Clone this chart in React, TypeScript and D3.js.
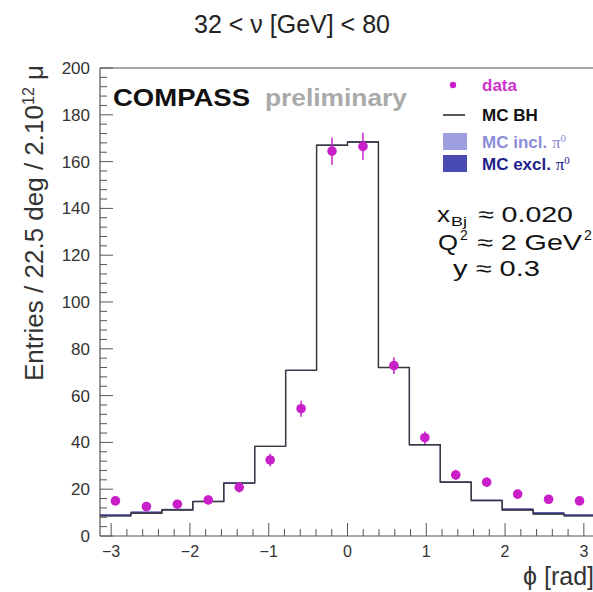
import React from 'react';
import * as d3 from 'd3';

const nBins = 16;
const mcBH = [8.6, 9.7, 11.1, 14.7, 22.6, 38.3, 70.8, 167.0, 168.4, 72.0, 39.0, 23.0, 15.1, 11.1, 9.4, 8.6];
const mcExcl = [0.6, 0.6, 0.3, 0.2, 0.1, 0, 0, 0, 0, 0, 0, 0.1, 0.3, 0.5, 0.6, 0.6];
const mcIncl = [0.2, 0.2, 0.1, 0.1, 0, 0, 0, 0, 0, 0, 0, 0, 0.1, 0.1, 0.2, 0.2];
const dataVals = [15.0, 12.6, 13.6, 15.4, 20.8, 32.5, 54.4, 164.5, 166.5, 72.8, 42.0, 26.1, 23.0, 17.9, 15.7, 15.0];
const dataErr = [1.8, 1.7, 1.8, 1.9, 2.2, 2.7, 3.4, 5.8, 5.8, 3.6, 2.7, 2.2, 2.0, 1.9, 1.8, 1.8];
const xMajorTicks = [-3, -2, -1, 0, 1, 2, 3];
const yMajorTicks = [0, 20, 40, 60, 80, 100, 120, 140, 160, 180, 200];

const ROOT_FONT = '"Liberation Sans", Arial, Helvetica, sans-serif';
const NOTE_FONT = '"Liberation Sans", Arial, sans-serif';

export default function App() {
  const x = d3.scaleLinear().domain([-Math.PI, Math.PI]).range([100, 595]);
  const y = d3.scaleLinear().domain([0, 200]).range([536, 68]);
  const binW = (2 * Math.PI) / nBins;
  const edges = d3.range(nBins + 1).map((i) => -Math.PI + i * binW);
  const centers = d3.range(nBins).map((i) => -Math.PI + (i + 0.5) * binW);

  const pts = (lo: number[], hi: number[]) =>
    edges.map((e, i) => {
      const k = Math.min(i, nBins - 1);
      return { e, lo: lo[k], hi: hi[k] };
    });

  const bhPlusExcl = mcBH.map((v, i) => v + mcExcl[i]);
  const total = bhPlusExcl.map((v, i) => v + mcIncl[i]);

  const area = d3
    .area<{ e: number; lo: number; hi: number }>()
    .x((d) => x(d.e))
    .y0((d) => y(d.lo))
    .y1((d) => y(d.hi))
    .curve(d3.curveStepAfter);
  const line = d3
    .line<{ e: number; lo: number; hi: number }>()
    .x((d) => x(d.e))
    .y((d) => y(d.hi))
    .curve(d3.curveStepAfter);

  const xMinor = d3.range(-3, 3.0001, 0.2).map((v) => Math.round(v * 10) / 10).filter((v) => !xMajorTicks.includes(v));
  const yMinor = d3.range(0, 201, 4).filter((v) => v % 20 !== 0);

  const axisCol = '#555';

  return (
    <svg width={593} height={592} style={{ position: 'absolute', left: 0, top: 0, background: '#fff' }}>
      <rect x={0} y={0} width={593} height={592} fill="#fff" />
      {/* Title */}
      <text x={292} y={33} textAnchor="middle" fontFamily={ROOT_FONT} fontSize={25} fill="#222">
        32 &lt; ν [GeV] &lt; 80
      </text>

      {/* MC stacks */}
      <path d={area(pts(mcBH, bhPlusExcl)) || ''} fill="#4a4ab5" stroke="#3a3aa0" strokeWidth={1} />
      <path d={area(pts(bhPlusExcl, total)) || ''} fill="#9f9fe0" stroke="none" />
      <path d={line(pts(mcBH, mcBH)) || ''} fill="none" stroke="#3a3a3a" strokeWidth={1.4} />

      {/* Frame */}
      <line x1={100} x2={595} y1={68} y2={68} stroke="#888" strokeWidth={1.5} />
      <line x1={100} x2={100} y1={68} y2={536} stroke={axisCol} strokeWidth={1.2} />
      <line x1={100} x2={595} y1={536} y2={536} stroke={axisCol} strokeWidth={1.2} />

      {/* Y ticks */}
      {yMajorTicks.map((t) => (
        <g key={'ym' + t}>
          <line x1={100} x2={113} y1={y(t)} y2={y(t)} stroke={axisCol} strokeWidth={1} />
          <text x={90} y={y(t) + 6} textAnchor="end" fontFamily={ROOT_FONT} fontSize={17} fill="#333">
            {t}
          </text>
        </g>
      ))}
      {yMinor.map((t) => (
        <line key={'yn' + t} x1={100} x2={107} y1={y(t)} y2={y(t)} stroke={axisCol} strokeWidth={1} />
      ))}

      {/* X ticks */}
      {xMajorTicks.map((t) => (
        <g key={'xm' + t}>
          <line x1={x(t)} x2={x(t)} y1={536} y2={523} stroke={axisCol} strokeWidth={1} />
          <text x={x(t)} y={557} textAnchor="middle" fontFamily={ROOT_FONT} fontSize={16} fill="#333">
            {t < 0 ? '\u2212' + Math.abs(t) : t}
          </text>
        </g>
      ))}
      {xMinor.map((t) => (
        <line key={'xn' + t} x1={x(t)} x2={x(t)} y1={536} y2={529} stroke={axisCol} strokeWidth={1} />
      ))}

      {/* Data points */}
      {centers.map((c, i) => (
        <g key={'d' + i}>
          <line x1={x(c)} x2={x(c)} y1={y(dataVals[i] - dataErr[i])} y2={y(dataVals[i] + dataErr[i])} stroke="#cc22cc" strokeWidth={1.5} />
          <circle cx={x(c)} cy={y(dataVals[i])} r={4.8} fill="#c81fc8" />
        </g>
      ))}

      {/* Axis titles */}
      <text transform="translate(43,65) rotate(-90)" textAnchor="end" fontFamily={ROOT_FONT} fontSize={26} fill="#333">
        Entries / 22.5 deg / 2.10<tspan dy={-9} fontSize={16}>12</tspan>
        <tspan dy={9}> μ</tspan>
      </text>
      <text x={594} y={585} textAnchor="end" fontFamily={ROOT_FONT} fontSize={25} fill="#333">
        ϕ [rad]
      </text>

      {/* COMPASS label */}
      <text x={113} y={106} fontFamily={ROOT_FONT} fontWeight="bold" fontSize={23} fill="#111" textLength={137} lengthAdjust="spacingAndGlyphs">
        COMPASS
      </text>
      <text x={265} y={106} fontFamily={ROOT_FONT} fontWeight="bold" fontSize={23} fill="#aaa" textLength={142} lengthAdjust="spacingAndGlyphs">
        preliminary
      </text>

      {/* Legend */}
      <circle cx={453} cy={85} r={3.2} fill="#c81fc8" />
      <text x={482} y={91} fontFamily={ROOT_FONT} fontWeight="bold" fontSize={17} fill="#cc33cc">
        data
      </text>
      <line x1={443} x2={465} y1={115} y2={115} stroke="#222" strokeWidth={1.5} />
      <text x={482} y={121} fontFamily={ROOT_FONT} fontWeight="bold" fontSize={17} fill="#111">
        MC BH
      </text>
      <rect x={443} y={133} width={24} height={17} fill="#9f9fe0" />
      <text x={482} y={148} fontFamily={ROOT_FONT} fontWeight="bold" fontSize={17} fill="#8c8cd9">
        MC incl. <tspan fontFamily='"Liberation Serif", serif' fontWeight="normal">π</tspan>
        <tspan dy={-6} fontSize={11} fontFamily='"Liberation Serif", serif' fontWeight="normal">0</tspan>
      </text>
      <rect x={443} y={155} width={24} height={17} fill="#4a4ab5" />
      <text x={482} y={170} fontFamily={ROOT_FONT} fontWeight="bold" fontSize={17} fill="#1e1e8c">
        MC excl. <tspan fontFamily='"Liberation Serif", serif' fontWeight="normal">π</tspan>
        <tspan dy={-6} fontSize={11} fontFamily='"Liberation Serif", serif' fontWeight="normal">0</tspan>
      </text>

      {/* Kinematics annotation */}
      <text x={437} y={222} fontFamily={NOTE_FONT} fontSize={22} fill="#111" textLength={13} lengthAdjust="spacingAndGlyphs">x</text>
      <text x={451} y={226} fontFamily={NOTE_FONT} fontSize={13} fill="#111" textLength={16} lengthAdjust="spacingAndGlyphs">Bj</text>
      <text x={478} y={222} fontFamily={NOTE_FONT} fontSize={22} fill="#111" textLength={95} lengthAdjust="spacingAndGlyphs">≈ 0.020</text>

      <text x={438} y={250} fontFamily={NOTE_FONT} fontSize={22} fill="#111" textLength={20} lengthAdjust="spacingAndGlyphs">Q</text>
      <text x={460} y={240} fontFamily={NOTE_FONT} fontSize={14} fill="#111">2</text>
      <text x={477} y={250} fontFamily={NOTE_FONT} fontSize={22} fill="#111" textLength={105} lengthAdjust="spacingAndGlyphs">≈ 2 GeV</text>
      <text x={584} y={240} fontFamily={NOTE_FONT} fontSize={14} fill="#111">2</text>

      <text x={453} y={276} fontFamily={NOTE_FONT} fontSize={22} fill="#111" textLength={87} lengthAdjust="spacingAndGlyphs">y ≈ 0.3</text>
    </svg>
  );
}
